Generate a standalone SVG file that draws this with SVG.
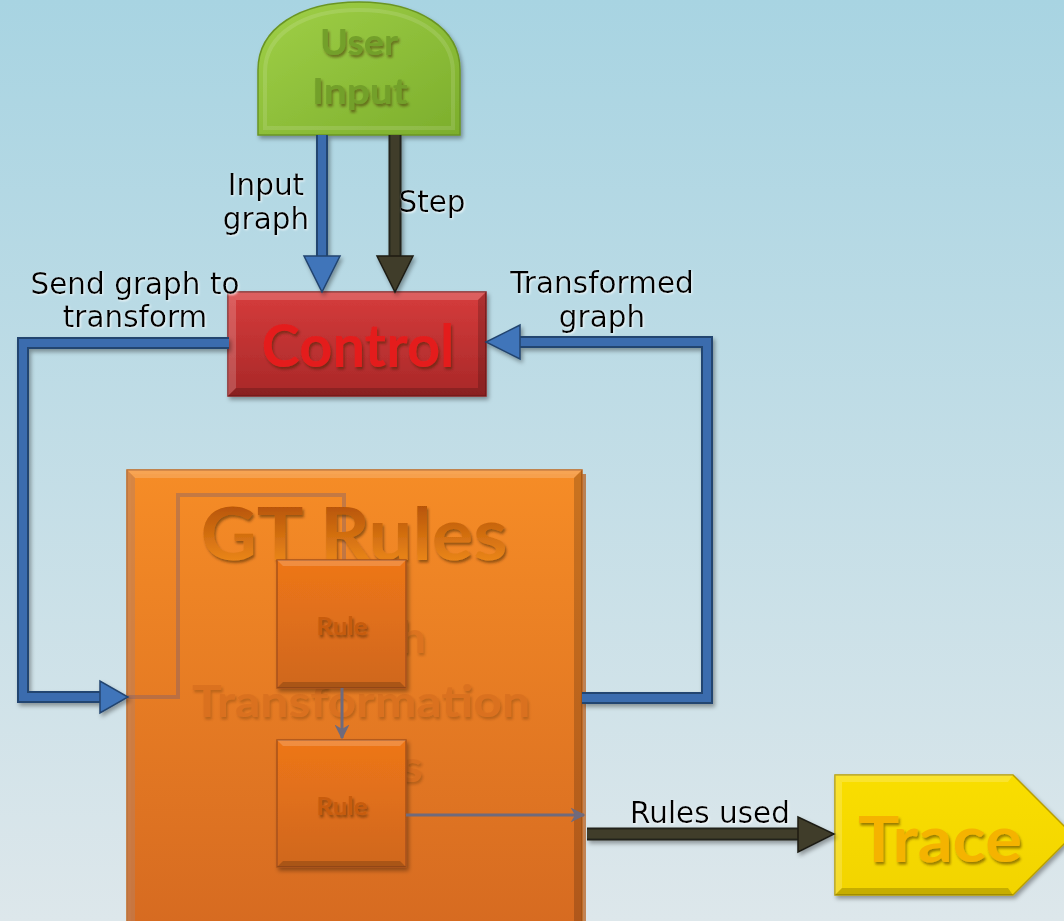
<svg xmlns="http://www.w3.org/2000/svg" width="1064" height="921" viewBox="0 0 1064 921">
  <defs>
    <linearGradient id="bg" x1="0" y1="0" x2="0" y2="1">
      <stop offset="0" stop-color="#a8d4e2"/>
      <stop offset="1" stop-color="#dde7eb"/>
    </linearGradient>
    <linearGradient id="gGreen" x1="0" y1="0" x2="1" y2="1">
      <stop offset="0" stop-color="#a0d048"/>
      <stop offset="1" stop-color="#7cae2c"/>
    </linearGradient>
    <linearGradient id="gRed" x1="0" y1="0" x2="0" y2="1">
      <stop offset="0" stop-color="#d63c3c"/>
      <stop offset="1" stop-color="#a82828"/>
    </linearGradient>
    <linearGradient id="gOrange" x1="0" y1="0" x2="0" y2="1">
      <stop offset="0" stop-color="#f98d24"/>
      <stop offset="1" stop-color="#d7691e"/>
    </linearGradient>
    <linearGradient id="gRule" x1="0" y1="0" x2="0" y2="1">
      <stop offset="0" stop-color="#ee7618"/>
      <stop offset="1" stop-color="#cf671e"/>
    </linearGradient>
    <linearGradient id="gYellow" x1="0" y1="0" x2="0" y2="1">
      <stop offset="0" stop-color="#f9de00"/>
      <stop offset="1" stop-color="#f2d400"/>
    </linearGradient>
    <linearGradient id="gGTtext" x1="0" y1="0" x2="0" y2="1">
      <stop offset="0" stop-color="#a84600"/>
      <stop offset="1" stop-color="#f7921f"/>
    </linearGradient>
    <filter id="shadow" x="-10%" y="-10%" width="130%" height="130%">
      <feDropShadow dx="2" dy="3" stdDeviation="2" flood-color="#000" flood-opacity="0.35"/>
    </filter>
    <filter id="tsh" x="-10%" y="-20%" width="130%" height="150%">
      <feDropShadow dx="1.5" dy="2.5" stdDeviation="1.2" flood-color="#3a2000" flood-opacity="0.5"/>
    </filter>
    <filter id="lsh" x="-10%" y="-20%" width="130%" height="150%">
      <feDropShadow dx="1" dy="1" stdDeviation="0.8" flood-color="#ffffff" flood-opacity="0.8"/>
    </filter>
    <marker id="gArrow" viewBox="0 0 10 10" refX="9" refY="5" markerWidth="5" markerHeight="5" orient="auto" markerUnits="strokeWidth">
      <path d="M0,0 L10,5 L0,10 L3,5 Z" fill="#6f6a7c"/>
    </marker>
  </defs>
  <style>
    .lbl { font-family: "DejaVu Sans", "Liberation Sans", sans-serif; font-size: 29.5px; fill: #000; text-anchor: middle; }
    .ttl { font-family: Lato, "Liberation Sans", sans-serif; font-weight: bold; text-anchor: middle; }
    .blueOut { fill: none; stroke: #23446f; stroke-width: 12; stroke-linejoin: miter; }
    .blueIn { fill: none; stroke: #3a6cae; stroke-width: 8; stroke-linejoin: miter; }
    .blueHead { fill: #3f75ba; stroke: #23446f; stroke-width: 1.5; stroke-linejoin: miter; }
    .darkOut { fill: none; stroke: #24231a; stroke-width: 13; }
    .darkIn { fill: none; stroke: #413e2a; stroke-width: 9; }
    .darkHead { fill: #413e2a; stroke: #1e1d15; stroke-width: 1.5; }
    .thin { fill: none; stroke: #6f6a7c; stroke-width: 3; }
    .hiL { fill: #ffffff; fill-opacity: 0.18; }
    .hiD { fill: #000000; fill-opacity: 0.18; }
  </style>

  <rect width="1064" height="921" fill="url(#bg)"/>

  <g id="user-input">
    <path d="M258,135 V70 C258,28 300,2 359,2 C418,2 460,28 460,70 V135 Z" fill="url(#gGreen)" stroke="#6a9524" stroke-width="1.5" filter="url(#shadow)"/>
    <path d="M265,128 V72 C265,34 304,10 359,10 C414,10 453,34 453,72 V128 Z" fill="none" stroke="#ffffff" stroke-opacity="0.12" stroke-width="4"/>
    <text class="ttl" x="359" y="55" font-size="37" fill="#73a02a" textLength="78" lengthAdjust="spacingAndGlyphs" filter="url(#tsh)">User</text>
    <text class="ttl" x="360" y="104" font-size="37" fill="#73a02a" textLength="96" lengthAdjust="spacingAndGlyphs" filter="url(#tsh)">Input</text>
  </g>

  <g id="control">
    <rect x="228" y="292" width="258" height="104" fill="url(#gRed)" stroke="#8a1f1f" stroke-width="1.5" filter="url(#shadow)"/>
    <polygon class="hiL" points="228,292 486,292 478,300 236,300"/>
    <polygon class="hiL" points="228,292 236,300 236,388 228,396"/>
    <polygon class="hiD" points="486,292 486,396 478,388 478,300"/>
    <polygon class="hiD" points="228,396 486,396 478,388 236,388"/>
    <text class="ttl" x="358" y="367" font-size="60" fill="#e41e1e" textLength="193" lengthAdjust="spacingAndGlyphs" filter="url(#tsh)">Control</text>
  </g>

  <g id="gt-rules">
    <rect x="131" y="474" width="455" height="460" fill="#b85a14" opacity="0.7"/>
    <rect x="127" y="470" width="455" height="460" fill="url(#gOrange)" fill-opacity="0.95" stroke="#c0661c" stroke-width="1.5"/>
    <polygon class="hiL" points="127,470 582,470 574,478 135,478"/>
    <polygon points="127,470 135,478 135,921 127,921" fill="#b88060" fill-opacity="0.5"/>
    <polygon class="hiD" points="582,470 582,921 574,921 574,478"/>
    <path d="M128,697 H178 V495 H344 V560" fill="none" stroke="#6a5a7a" stroke-opacity="0.35" stroke-width="4"/>
    <g filter="url(#tsh)" opacity="0.5">
      <text class="ttl" x="361" y="653" font-size="44" fill="#d0681c" textLength="130" lengthAdjust="spacingAndGlyphs">Graph</text>
      <text class="ttl" x="361" y="717" font-size="44" fill="#d0681c" textLength="338" lengthAdjust="spacingAndGlyphs">Transformation</text>
      <text class="ttl" x="361" y="782" font-size="44" fill="#d0681c" textLength="124" lengthAdjust="spacingAndGlyphs">Rules</text>
    </g>
    <text class="ttl" x="354" y="560" font-size="72" fill="url(#gGTtext)" textLength="307" lengthAdjust="spacingAndGlyphs" filter="url(#tsh)">GT Rules</text>
  </g>

  <g id="rule-1">
    <rect x="277" y="560" width="129" height="128" fill="url(#gRule)" stroke="#a8521a" stroke-width="1.5" filter="url(#shadow)"/>
    <polygon class="hiL" points="277,560 406,560 400,566 283,566"/>
    <polygon class="hiD" points="277,688 406,688 400,682 283,682"/>
    <text class="ttl" x="342" y="635" font-size="24" fill="#c85c10" textLength="51" lengthAdjust="spacingAndGlyphs" filter="url(#tsh)">Rule</text>
  </g>

  <g id="rule-2">
    <rect x="277" y="740" width="129" height="127" fill="url(#gRule)" stroke="#a8521a" stroke-width="1.5" filter="url(#shadow)"/>
    <polygon class="hiL" points="277,740 406,740 400,746 283,746"/>
    <polygon class="hiD" points="277,867 406,867 400,861 283,861"/>
    <text class="ttl" x="342" y="815" font-size="24" fill="#c85c10" textLength="51" lengthAdjust="spacingAndGlyphs" filter="url(#tsh)">Rule</text>
  </g>

  <g id="trace">
    <polygon points="835,775 1013,775 1073,835 1013,895 835,895" fill="url(#gYellow)" stroke="#b89e00" stroke-width="1.5" filter="url(#shadow)"/>
    <polygon class="hiL" points="835,775 1013,775 1008,782 842,782"/>
    <polygon class="hiL" points="835,775 842,782 842,888 835,895"/>
    <polygon class="hiD" points="835,895 1013,895 1008,888 842,888"/>
    <text class="ttl" x="940" y="862" font-size="64" fill="#f5b300" textLength="164" lengthAdjust="spacingAndGlyphs" filter="url(#tsh)">Trace</text>
  </g>

  <g id="connectors">
    <g id="conn-input-graph" filter="url(#shadow)">
      <path class="blueOut" d="M322,135 V258"/>
      <path class="blueIn" d="M322,135 V258"/>
      <polygon class="blueHead" points="304,256 340,256 322,292"/>
    </g>
    <g id="conn-step" filter="url(#shadow)">
      <path class="darkOut" d="M395,135 V258"/>
      <path class="darkIn" d="M395,135 V258"/>
      <polygon class="darkHead" points="377,256 413,256 395,292"/>
    </g>
    <g id="conn-send" filter="url(#shadow)">
      <path class="blueOut" d="M229,343 H23 V697 H102"/>
      <path class="blueIn" d="M229,343 H23 V697 H102"/>
      <polygon class="blueHead" points="100,681 100,713 128,697"/>
    </g>
    <g id="conn-transformed" filter="url(#shadow)">
      <path class="blueOut" d="M582,698 H707 V342 H518"/>
      <path class="blueIn" d="M582,698 H707 V342 H518"/>
      <polygon class="blueHead" points="520,325 520,359 486,342"/>
    </g>
    <g id="conn-rules-used" filter="url(#shadow)">
      <path class="darkOut" d="M587,834 H800"/>
      <path class="darkIn" d="M587,834 H800"/>
      <polygon class="darkHead" points="798,817 798,852 834,834"/>
    </g>
    <path class="thin" d="M342,688 V738" marker-end="url(#gArrow)"/>
    <path class="thin" d="M406,815 H584" marker-end="url(#gArrow)"/>
  </g>

  <g id="labels" filter="url(#lsh)">
    <text class="lbl" x="266" y="195">Input</text>
    <text class="lbl" x="266" y="229">graph</text>
    <text class="lbl" x="432" y="212">Step</text>
    <text class="lbl" x="135" y="294">Send graph to</text>
    <text class="lbl" x="135" y="327">transform</text>
    <text class="lbl" x="602" y="293">Transformed</text>
    <text class="lbl" x="602" y="327">graph</text>
    <text class="lbl" x="710" y="823">Rules used</text>
  </g>
</svg>
